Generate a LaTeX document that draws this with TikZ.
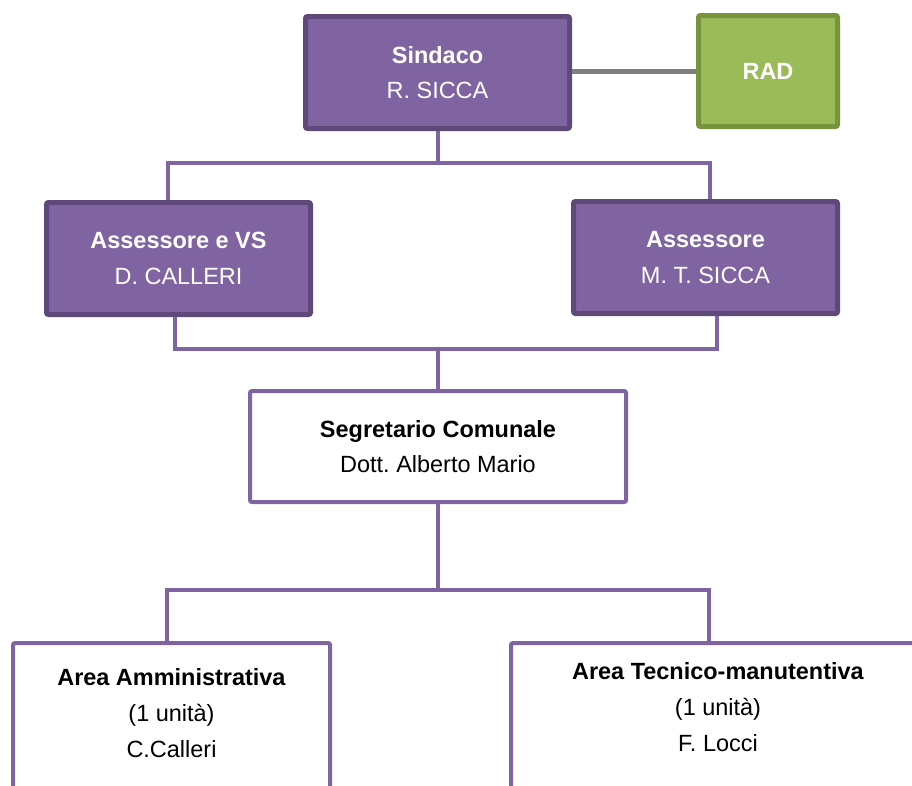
\documentclass[tikz,border=0pt]{standalone}
\usepackage{fontspec}
\setmainfont{Liberation Sans}
\usepackage{tikz}
\frenchspacing

\definecolor{lilla}{HTML}{8064A2}
\definecolor{lillascuro}{HTML}{5F497A}
\definecolor{verde}{HTML}{9BBB59}
\definecolor{verdescuro}{HTML}{77933C}
\definecolor{grigio}{HTML}{7F7F7F}

\begin{document}
\begin{tikzpicture}[x=0.75pt, y=-0.75pt,
        every node/.style={font=\fontsize{17.6}{26.5}\selectfont, align=center, inner sep=0pt},
        giunta/.style={draw=lillascuro, fill=lilla, line width=3.75pt, rounded corners=1.5pt,
            text=white, minimum width=198pt, minimum height=84pt},
        rad/.style={draw=verdescuro, fill=verde, line width=3.75pt, rounded corners=1.5pt,
            text=white, minimum width=104.25pt, minimum height=83.25pt},
        ufficio/.style={draw=lilla, fill=white, line width=3pt, rounded corners=1.5pt},
        testoarea/.style={font=\fontsize{17.6}{27}\selectfont},
        conn/.style={draw=lilla, line width=3pt},
        grigia/.style={draw=grigio, line width=3.75pt}]
        \useasboundingbox (0,0) rectangle (912,785);
        \clip (0,0) rectangle (912,785);

        % nodes sindaco, rad
        \node[giunta] (sindaco) at (437.5, 72.5) {\textbf{Sindaco}\\R. SICCA};
        \node[rad] (rad) at (768, 71) {\textbf{RAD}};

        % nodes assessori
        \node[giunta] (assvs) at (178.5, 258.5) {\textbf{Assessore e VS}\\D. CALLERI};
        \node[giunta] (ass) at (705.5, 257.5) {\textbf{Assessore}\\M. T. SICCA};

        % node segretario
        \node[ufficio, minimum width=282pt, minimum height=83.25pt] (segr) at (438, 446.5)
            {\textbf{Segretario Comunale}\\Dott. Alberto Mario};

        % nodes aree (cut at the bottom and on the right)
        \node[ufficio, minimum width=237.75pt, minimum height=150pt] (amm) at (171.5, 743) {};
        \node[testoarea] (ammtxt) at (171.5, 713)
            {\textbf{Area Amministrativa}\\(1 unità)\\C.Calleri};
        \node[ufficio, minimum width=375pt, minimum height=150pt] (tec) at (761, 743) {};
        \node[testoarea] (tectxt) at (718, 707)
            {\textbf{Area Tecnico-manutentiva}\\(1 unità)\\F. Locci};

        % junctions
        \coordinate (bus1) at (437.5, 163);
        \coordinate (vsin) at (168, 163);
        \coordinate (asin) at (710, 163);
        \coordinate (vsout) at (175, 349);
        \coordinate (asout) at (717, 349);
        \coordinate (ammin) at (167, 590);
        \coordinate (tecin) at (709, 590);

        % edge sindaco - rad
        \draw[grigia] (rad.west -| sindaco.east) -- (rad.west);

        % edges sindaco - assessori
        \draw[conn] (sindaco.south) -- (bus1);
        \draw[conn] (vsin |- assvs.north) -- (vsin) -- (asin) -- (asin |- ass.north);

        % edges assessori - segretario
        \draw[conn] (vsout |- assvs.south) -- (vsout) -- (asout) -- (asout |- ass.south);
        \draw[conn] (segr.north |- vsout) -- (segr.north);

        % edges segretario - aree
        \draw[conn] (segr.south) -- (segr.south |- ammin);
        \draw[conn] (ammin |- amm.north) -- (ammin) -- (tecin) -- (tecin |- tec.north);
    \end{tikzpicture}
\end{document}
